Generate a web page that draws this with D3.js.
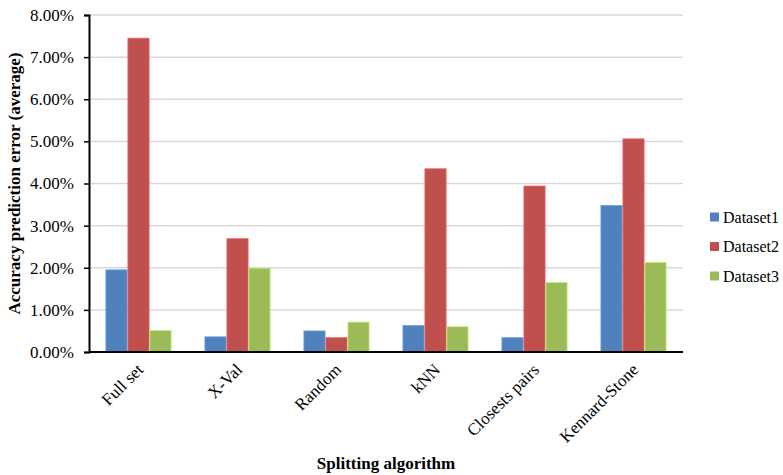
<!DOCTYPE html>
<html>
<head>
<meta charset="utf-8">
<script src="https://cdn.jsdelivr.net/npm/d3@7/dist/d3.min.js"></script>
<style>
  html, body { margin: 0; padding: 0; background: #fff; }
  svg { display: block; font-family: "Liberation Serif", "Times New Roman", serif; }
</style>
</head>
<body>
<svg id="chart" width="783" height="475"></svg>
<script>
// Splitting algorithms and the average accuracy prediction error per dataset (percent)
const categories = ["Full set", "X-Val", "Random", "kNN", "Closests pairs", "Kennard-Stone"];
const seriesNames = ["Dataset1", "Dataset2", "Dataset3"];
const dataset1 = [1.95, 0.36, 0.50, 0.63, 0.34, 3.48];
const dataset2 = [7.45, 2.69, 0.34, 4.35, 3.94, 5.06];
const dataset3 = [0.51, 1.99, 0.71, 0.60, 1.65, 2.13];
const seriesColors = ["#4F81BD", "#C0504D", "#9BBB59"];
const yTicks = [0, 1, 2, 3, 4, 5, 6, 7, 8];

const seriesValues = [dataset1, dataset2, dataset3];

const svg = d3.select("#chart");
const margin = { left: 89, right: 100, top: 15, bottom: 123 };
const W = 783, H = 475;
const plotW = W - margin.left - margin.right;
const plotH = H - margin.top - margin.bottom;

const g = svg.append("g").attr("transform", `translate(${margin.left},${margin.top})`);

const x0 = d3.scaleBand().domain(categories).range([0, plotW]).paddingInner(0).paddingOuter(0);
// 150% gap width: each bar is 1/4.5 of the category band
const barW = x0.bandwidth() / 4.5;
const x1 = d3.scaleBand().domain(seriesNames).range([0, barW * 3]);
const y = d3.scaleLinear().domain([0, 8]).range([plotH, 0]);

// horizontal gridlines
g.append("g")
  .selectAll("line")
  .data(yTicks.filter(t => t > 0))
  .join("line")
  .attr("x1", 0).attr("x2", plotW)
  .attr("y1", d => y(d)).attr("y2", d => y(d))
  .attr("stroke", "#D9D9D9")
  .attr("stroke-width", 1.5);

// bars
const groups = g.append("g")
  .selectAll("g")
  .data(categories)
  .join("g")
  .attr("transform", c => `translate(${x0(c) + (x0.bandwidth() - barW * 3) / 2},0)`);

groups.selectAll("rect")
  .data((c, i) => seriesNames.map((s, k) => ({ s, k, v: seriesValues[k][i] })))
  .join("rect")
  .attr("x", d => x1(d.s) + 0.4)
  .attr("width", x1.bandwidth() - 0.8)
  .attr("y", d => y(d.v))
  .attr("height", d => plotH - y(d.v))
  .attr("fill", d => seriesColors[d.k])
  .attr("stroke", d => d3.color(seriesColors[d.k]).brighter(0.7))
  .attr("stroke-width", 0.8);

// y axis
const yAxis = g.append("g")
  .call(d3.axisLeft(y).tickValues(yTicks).tickSize(5).tickPadding(10)
    .tickFormat(d => d3.format(".2f")(d) + "%"));
yAxis.select(".domain").attr("stroke", "#000").attr("stroke-width", 2);
yAxis.selectAll(".tick line").attr("stroke", "#000").attr("stroke-width", 1.5);
yAxis.selectAll(".tick text")
  .attr("font-family", "Liberation Serif, serif")
  .attr("font-size", 17)
  .attr("fill", "#000");

// x axis baseline
g.append("line")
  .attr("x1", 0).attr("x2", plotW)
  .attr("y1", plotH).attr("y2", plotH)
  .attr("stroke", "#000").attr("stroke-width", 2);

// rotated category labels
g.append("g")
  .selectAll("text")
  .data(categories)
  .join("text")
  .attr("transform", c => `translate(${x0(c) + x0.bandwidth() / 2 + 3},${plotH + 16}) rotate(-45)`)
  .attr("text-anchor", "end")
  .attr("dominant-baseline", "middle")
  .attr("font-size", 17)
  .attr("fill", "#000")
  .text(c => c);

// axis titles
svg.append("text")
  .attr("x", margin.left + plotW / 2)
  .attr("y", 469)
  .attr("text-anchor", "middle")
  .attr("font-size", 17)
  .attr("font-weight", "bold")
  .text("Splitting algorithm");

svg.append("text")
  .attr("transform", `translate(20,${margin.top + plotH / 2}) rotate(-90)`)
  .attr("text-anchor", "middle")
  .attr("font-size", 17)
  .attr("font-weight", "bold")
  .text("Accuracy prediction error (average)");

// legend
const legend = svg.append("g").attr("transform", "translate(710,217)");
const item = legend.selectAll("g")
  .data(seriesNames)
  .join("g")
  .attr("transform", (d, i) => `translate(0,${i * 29.5})`);
item.append("rect")
  .attr("x", 0).attr("y", -4.5)
  .attr("width", 9).attr("height", 9)
  .attr("fill", (d, i) => seriesColors[i]);
item.append("text")
  .attr("x", 13).attr("y", 0)
  .attr("dominant-baseline", "central")
  .attr("font-size", 16)
  .attr("fill", "#000")
  .text(d => d);
</script>
</body>
</html>
